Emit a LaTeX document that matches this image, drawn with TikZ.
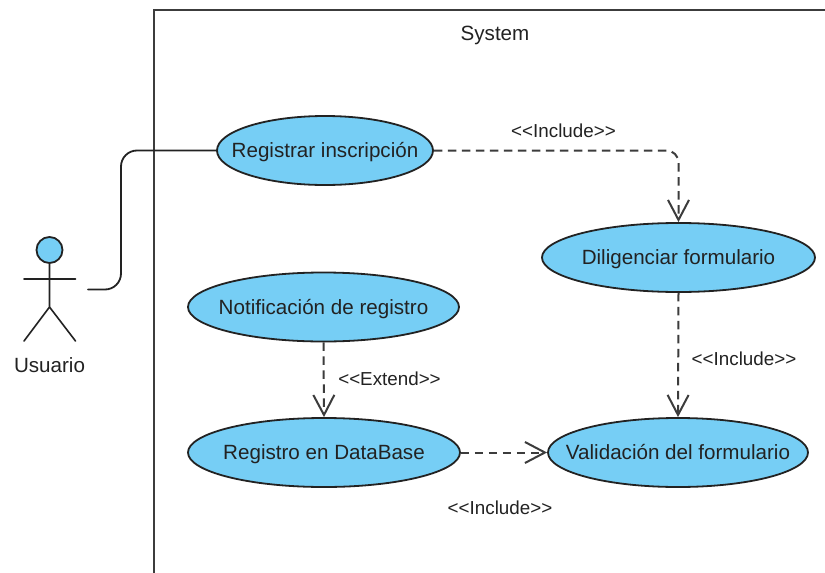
\documentclass[tikz,border=0pt]{standalone}
\usepackage{fontspec}
\setmainfont{Liberation Sans}
\usetikzlibrary{shapes.geometric,arrows.meta}
\definecolor{ucblue}{HTML}{76CEF5}
\definecolor{ink}{HTML}{222222}
\definecolor{linegray}{HTML}{3C3C3C}
\newcommand{\uctext}[1]{\smash{\raisebox{-7.4pt}{\makebox[0pt][c]{#1}}}}
\tikzset{
  usecase/.style={ellipse,draw=ink,line width=1.8pt,fill=ucblue,inner sep=0pt,minimum height=69pt,font=\fontsize{20.6}{24}\selectfont,text=ink},
  lbl/.style={inner sep=0pt,font=\fontsize{18.8}{22}\selectfont,text=ink},
  framel/.style={draw=linegray,line width=2.2pt},
  solidl/.style={draw=ink,line width=1.8pt,line cap=round},
  dep/.style={draw=linegray,line width=2pt,dash pattern=on 8.5pt off 5.5pt,rounded corners=12pt,-{Straight Barb[length=20pt,width=21pt,line width=2pt]}},
}
\begin{document}
\begin{tikzpicture}[x=1pt,y=-1pt]
\useasboundingbox (0,0) rectangle (825,573);
\fill[white] (0,0) rectangle (825,573);
\coordinate (fb) at (154,573);
\coordinate (ftl) at (154,10);
\coordinate (ftr) at (825,10);
\draw[framel] (fb) -- (ftl) -- (ftr);
\node[lbl,font=\fontsize{20.6}{24}\selectfont] (sys) at (495,35) {System};
\node[usecase,minimum width=216pt] (reg) at (325,150.5) {\uctext{Registrar inscripción}};
\node[usecase,minimum width=273pt] (dil) at (678.5,257.5) {\uctext{Diligenciar formulario}};
\node[usecase,minimum width=271pt] (not) at (323.5,307) {\uctext{Notificación de registro}};
\node[usecase,minimum width=272pt] (rdb) at (324,452.5) {\uctext{Registro en DataBase}};
\node[usecase,minimum width=260pt] (val) at (678,452.5) {\uctext{Validación del formulario}};
% actor
\node[circle,draw=ink,line width=1.8pt,fill=ucblue,minimum size=26pt,inner sep=0pt] (head) at (49.5,250) {};
\coordinate (hip) at (49.5,307);
\coordinate (armL) at (24,279);
\coordinate (armR) at (75.5,279);
\coordinate (legL) at (24,341);
\coordinate (legR) at (75.5,341);
\coordinate (act) at (88,289.5);
\draw[solidl,line width=1.6pt] (head.south) -- (hip) (armL) -- (armR) (legL) -- (hip) -- (legR);
\node[lbl,font=\fontsize{20.6}{24}\selectfont] (usr) at (49.5,365.5) {Usuario};
% connectors
\draw[solidl,rounded corners=16pt] (act) -- (121,289.5) -- (121,150.5) -- (reg.west);
\draw[dep] (reg.east) -- (678.5,150.5) -- (dil.north);
\draw[dep] (dil.south) -- (val.north);
\draw[dep] (not.south) -- (rdb.north);
\draw[dep] (rdb.east) -- (val.west);
% labels
\node[lbl] (l1) at (563.5,131) {<{}<Include>{}>};
\node[lbl] (l2) at (744,359) {<{}<Include>{}>};
\node[lbl] (l3) at (389.5,378.5) {<{}<Extend>{}>};
\node[lbl] (l4) at (500,507.5) {<{}<Include>{}>};
\end{tikzpicture}
\end{document}
